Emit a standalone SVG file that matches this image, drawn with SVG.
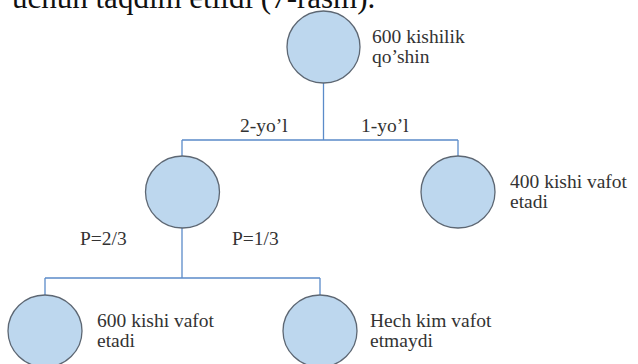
<svg xmlns="http://www.w3.org/2000/svg" width="638" height="364" viewBox="0 0 638 364" font-family="'Liberation Serif', 'DejaVu Serif', serif">
<style>
.node{fill:#bdd7ee;stroke:#5d6773;stroke-width:1.3}
.conn{fill:none;stroke:#5b8bc9;stroke-width:1.3}
.t{font-family:'Liberation Serif','DejaVu Serif',serif;font-size:19.5px;fill:#333}
.head{font-family:'Liberation Serif','DejaVu Serif',serif;font-size:31px;fill:#111}
</style>
<rect width="638" height="364" fill="#fff"/>
<text class="head" x="12" y="8">uchun taqdim etildi (7-rasm).</text>
<g id="connectors">
<path class="conn" d="M323.5 83V140M182 140H458M182 140V156M458 140V156"/>
<path class="conn" d="M182 228V278M45 278H320M45 278V295M320 278V295"/>
</g>
<g id="labels">
<text class="t" x="240" y="132">2-yo’l</text>
<text class="t" x="361" y="132">1-yo’l</text>
<text class="t" x="80" y="245">P=2/3</text>
<text class="t" x="232" y="245">P=1/3</text>
</g>
<g id="root">
<ellipse class="node" cx="323.5" cy="47" rx="36.5" ry="36"/>
<text class="t" x="372" y="43">600 kishilik</text>
<text class="t" x="372" y="63">qo’shin</text>
</g>
<g id="path2">
<ellipse class="node" cx="182.5" cy="192" rx="37" ry="36"/>
</g>
<g id="path1">
<ellipse class="node" cx="458" cy="192" rx="37" ry="36"/>
<text class="t" x="510" y="188">400 kishi vafot</text>
<text class="t" x="510" y="208">etadi</text>
</g>
<g id="outcome-all-die">
<ellipse class="node" cx="45" cy="331" rx="37" ry="36"/>
<text class="t" x="97" y="327">600 kishi vafot</text>
<text class="t" x="97" y="347">etadi</text>
</g>
<g id="outcome-none-die">
<ellipse class="node" cx="320" cy="331" rx="37" ry="36"/>
<text class="t" x="370" y="327">Hech kim vafot</text>
<text class="t" x="370" y="347">etmaydi</text>
</g>
</svg>
